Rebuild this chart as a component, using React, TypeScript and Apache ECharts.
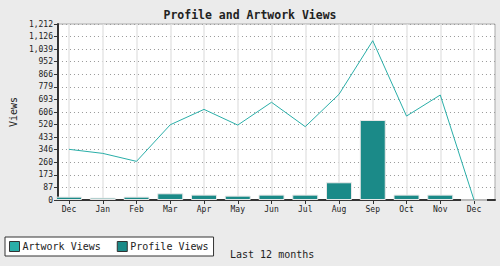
import React, { useEffect, useRef } from "react";
import * as echarts from "echarts";

const months = ["Dec", "Jan", "Feb", "Mar", "Apr", "May", "Jun", "Jul", "Aug", "Sep", "Oct", "Nov", "Dec"];
const artworkViews = [349, 321, 266, 518, 624, 516, 673, 505, 728, 1097, 578, 723, 0];
const profileViews = [23, 16, 23, 46, 37, 30, 37, 37, 122, 551, 37, 37, 0];
const yTickLabels = ["0", "87", "173", "260", "346", "433", "520", "606", "693", "779", "866", "952", "1,039", "1,126", "1,212"];
const yMax = 1212;
const ySteps = yTickLabels.length - 1;

const FONT = "'DejaVu Sans Mono', 'Liberation Mono', monospace";

export default function App() {
  const ref = useRef<HTMLDivElement>(null);
  useEffect(() => {
    if (!ref.current) return;
    const chart = echarts.init(ref.current, null, { renderer: "svg" });
    const step = yMax / ySteps;
    chart.setOption({
      animation: false,
      backgroundColor: "#ebebeb",
      title: {
        text: "Profile and Artwork Views",
        left: "center",
        top: 4,
        textStyle: { fontFamily: FONT, fontSize: 11.5, fontWeight: "bold", color: "#222" },
      },
      legend: {
        left: 5,
        top: 237,
        orient: "horizontal",
        backgroundColor: "#fff",
        borderColor: "#333",
        borderWidth: 1,
        padding: [4, 5, 4, 4],
        itemWidth: 10,
        itemHeight: 10,
        itemGap: 16,
        icon: "rect",
        textStyle: { fontFamily: FONT, fontSize: 10, color: "#222", padding: [0, 0, 0, -2] },
        itemStyle: { borderColor: "#333", borderWidth: 1 },
        data: ["Artwork Views", "Profile Views"],
      },
      graphic: [
        {
          type: "text",
          left: 230,
          top: 249,
          style: { text: "Last 12 months", font: "10px " + FONT, fill: "#222" },
        },
      ],
      grid: [
        { left: 49, right: 5, top: 24, bottom: 66, show: true, backgroundColor: "#fff", borderColor: "#aaa", borderWidth: 1 },
        { left: 69, right: 26, top: 24, bottom: 66 },
      ],
      xAxis: [
        {
          gridIndex: 0,
          type: "value",
          min: 0,
          max: 1,
          axisLine: { show: true, lineStyle: { color: "#333", width: 2 } },
          axisTick: { show: false },
          axisLabel: { show: false },
          splitLine: { show: false },
        },
        {
          gridIndex: 1,
          type: "category",
          data: months,
          boundaryGap: false,
          axisLine: { show: false },
          axisTick: { show: true, length: 4, lineStyle: { color: "#333", width: 1 } },
          axisLabel: { fontFamily: FONT, fontSize: 8, color: "#222", margin: 5, interval: 0 },
          splitLine: { show: true, lineStyle: { color: "#e6e6e6", width: 1.5 } },
        },
      ],
      yAxis: [
        {
          gridIndex: 0,
          type: "value",
          min: 0,
          max: yMax,
          interval: step,
          name: "Views",
          nameLocation: "middle",
          nameGap: 31,
          nameTextStyle: { fontFamily: FONT, fontSize: 10, color: "#222" },
          axisLine: { show: true, lineStyle: { color: "#333", width: 2 } },
          axisTick: { show: true, length: 4, lineStyle: { color: "#333", width: 1 } },
          axisLabel: {
            fontFamily: FONT,
            fontSize: 8,
            color: "#222",
            margin: 5,
            formatter: (v: number) => yTickLabels[Math.round(v / step)] ?? "",
          },
          splitLine: { show: true, lineStyle: { color: "#999", width: 1, type: [1, 3] } },
        },
        {
          gridIndex: 1,
          type: "value",
          min: 0,
          max: yMax,
          show: false,
          splitLine: { show: false },
        },
      ],
      series: [
        {
          name: "Artwork Views",
          type: "line",
          xAxisIndex: 1,
          yAxisIndex: 1,
          data: artworkViews,
          symbol: "none",
          lineStyle: { color: "#2aaea8", width: 1 },
          itemStyle: { color: "#2aaea8" },
          z: 3,
        },
        {
          name: "Profile Views",
          type: "bar",
          xAxisIndex: 1,
          yAxisIndex: 1,
          data: profileViews,
          barWidth: 26,
          itemStyle: { color: "#1b8a88", borderColor: "#e8e8e8", borderWidth: 1 },
          z: 2,
        },
      ],
    });
    return () => chart.dispose();
  }, []);
  return <div ref={ref} style={{ position: "fixed", left: 0, top: 0, width: 500, height: 266 }} />;
}
